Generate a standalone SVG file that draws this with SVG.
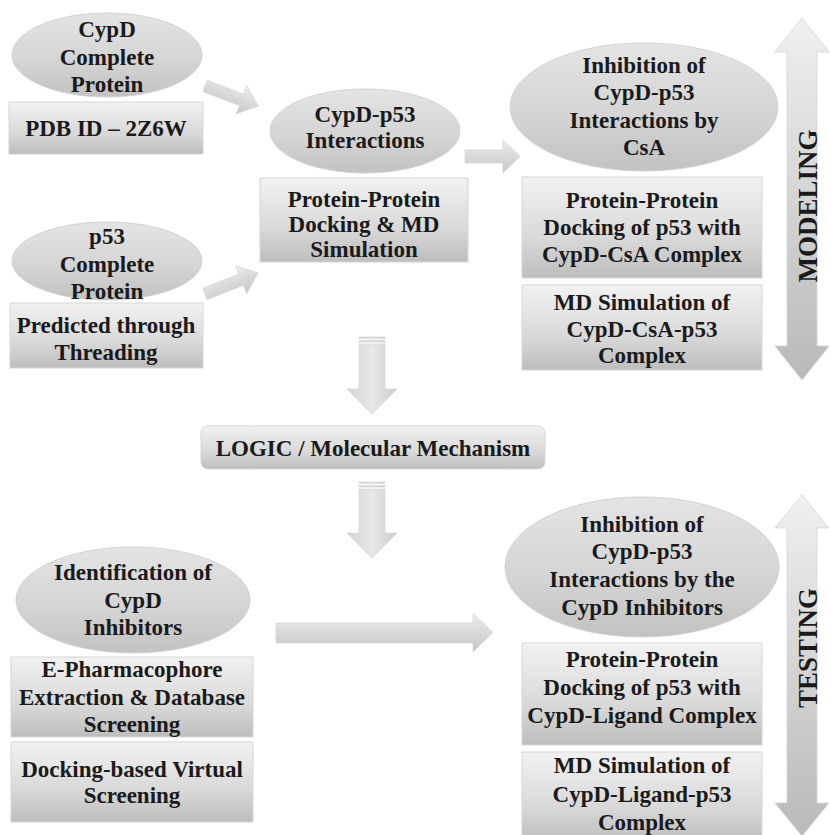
<svg xmlns="http://www.w3.org/2000/svg" width="830" height="835" viewBox="0 0 830 835">
<defs>
<linearGradient id="gEll" x1="0" y1="0" x2="0" y2="1">
<stop offset="0" stop-color="#e4e4e4"/>
<stop offset="0.55" stop-color="#d5d5d5"/>
<stop offset="1" stop-color="#c2c2c2"/>
</linearGradient>
<linearGradient id="gBox" x1="0" y1="0" x2="0" y2="1">
<stop offset="0" stop-color="#f2f2f2"/>
<stop offset="0.6" stop-color="#d9d9d9"/>
<stop offset="1" stop-color="#bdbdbd"/>
</linearGradient>
<linearGradient id="gArrH" x1="0" y1="0" x2="0" y2="1">
<stop offset="0" stop-color="#ececec"/>
<stop offset="1" stop-color="#c6c6c6"/>
</linearGradient>
<linearGradient id="gArrV" x1="0" y1="0" x2="1" y2="0">
<stop offset="0" stop-color="#d2d2d2"/>
<stop offset="0.5" stop-color="#e8e8e8"/>
<stop offset="1" stop-color="#cacaca"/>
</linearGradient>
<linearGradient id="gDbl" x1="0" y1="0" x2="0" y2="1">
<stop offset="0" stop-color="#f0f0f0"/>
<stop offset="1" stop-color="#b9b9b9"/>
</linearGradient>
</defs>
<style>
.ell{fill:url(#gEll);stroke:#d2d2d2;stroke-width:1}
.box{fill:url(#gBox);stroke:#d6d6d6;stroke-width:1}
.arr{fill:url(#gArrH);stroke:#d8d8d8;stroke-width:0.8}
.arrv{fill:url(#gArrV);stroke:#d8d8d8;stroke-width:0.8}
.dbl{fill:url(#gDbl);stroke:#d4d4d4;stroke-width:0.8}
text{font-family:"Liberation Serif","Times New Roman",serif;font-weight:bold;font-size:23px;fill:#1a1a1a;text-anchor:middle}
.big{font-size:23px}
.side{font-size:27px}
</style>
<rect width="830" height="835" fill="#ffffff"/>

<g id="connectors">
<path class="arr" transform="translate(205,86) rotate(20.7)" d="M0,-6 L39,-6 L39,-15 L57,0 L39,15 L39,6 L0,6 Z"/>
<path class="arr" transform="translate(205,294) rotate(-21.6)" d="M0,-6 L39,-6 L39,-15 L57,0 L39,15 L39,6 L0,6 Z"/>
<path class="arr" d="M465,150 L503,150 L503,140 L520,156.5 L503,173 L503,163 L465,163 Z"/>
<g class="arrv">
<rect x="359" y="337" width="26" height="1.5"/>
<rect x="359" y="340.5" width="26" height="1.5"/>
<path d="M359,344 L385,344 L385,389 L397,389 L372,414 L347,389 L359,389 Z"/>
<rect x="359" y="482" width="26" height="1.5"/>
<rect x="359" y="485.5" width="26" height="1.5"/>
<path d="M359,489 L385,489 L385,533 L397,533 L372,558 L347,533 L359,533 Z"/>
</g>
<path class="arr" d="M276,623 L473,623 L473,613 L493,632.5 L473,652 L473,643 L276,643 Z"/>
</g>

<g id="node-cypd">
<ellipse class="ell" cx="107" cy="55" rx="95" ry="42"/>
<text x="107" y="37">CypD</text>
<text x="107" y="64.5">Complete</text>
<text x="107" y="92">Protein</text>
</g>
<g id="node-pdb">
<rect class="box" x="9" y="102" width="194" height="52"/>
<text x="106" y="136">PDB ID – 2Z6W</text>
</g>

<g id="node-p53">
<ellipse class="ell" cx="107" cy="261" rx="95" ry="39"/>
<text x="107" y="244">p53</text>
<text x="107" y="272">Complete</text>
<text x="107" y="299">Protein</text>
</g>
<g id="node-threading">
<rect class="box" x="10" y="303" width="193" height="65"/>
<text x="106" y="333">Predicted through</text>
<text x="106" y="360">Threading</text>
</g>

<g id="node-cypd-p53">
<ellipse class="ell" cx="365" cy="131" rx="95" ry="42"/>
<text x="365" y="122">CypD-p53</text>
<text x="365" y="148">Interactions</text>
</g>
<g id="node-ppdock">
<rect class="box" x="260" y="178" width="208" height="84"/>
<text x="364" y="207">Protein-Protein</text>
<text x="364" y="232">Docking &amp; MD</text>
<text x="364" y="257">Simulation</text>
</g>

<g id="node-inhib-csa">
<ellipse class="ell" cx="644" cy="107" rx="134" ry="64"/>
<text x="644" y="73">Inhibition of</text>
<text x="644" y="100">CypD-p53</text>
<text x="644" y="128">Interactions by</text>
<text x="644" y="155">CsA</text>
</g>
<g id="node-dock-csa">
<rect class="box" x="522" y="177" width="240" height="101"/>
<text x="642" y="208">Protein-Protein</text>
<text x="642" y="235">Docking of p53 with</text>
<text x="642" y="262">CypD-CsA Complex</text>
</g>
<g id="node-md-csa">
<rect class="box" x="522" y="285" width="240" height="85"/>
<text x="642" y="310">MD Simulation of</text>
<text x="642" y="337">CypD-CsA-p53</text>
<text x="642" y="363">Complex</text>
</g>

<g id="node-modeling">
<path class="dbl" d="M802,18 L829,52 L817,52 L817,346 L829,346 L802,380 L775,346 L787,346 L787,52 L775,52 Z"/>
<text class="side" transform="translate(817,206) rotate(-90)" x="0" y="0">MODELING</text>
</g>

<g id="node-logic">
<rect class="box" x="201" y="426" width="344" height="43" rx="7"/>
<text class="big" x="373" y="456">LOGIC / Molecular Mechanism</text>
</g>

<g id="node-identification">
<ellipse class="ell" cx="133" cy="600" rx="117" ry="53"/>
<text x="133" y="580">Identification of</text>
<text x="133" y="608">CypD</text>
<text x="133" y="635">Inhibitors</text>
</g>
<g id="node-epharm">
<rect class="box" x="11" y="657" width="242" height="80"/>
<text x="132" y="677">E-Pharmacophore</text>
<text x="132" y="705">Extraction &amp; Database</text>
<text x="132" y="732">Screening</text>
</g>
<g id="node-vs">
<rect class="box" x="11" y="742" width="242" height="80"/>
<text x="132" y="777">Docking-based Virtual</text>
<text x="132" y="803">Screening</text>
</g>

<g id="node-inhib-lig">
<ellipse class="ell" cx="642" cy="567" rx="137" ry="70"/>
<text x="642" y="532">Inhibition of</text>
<text x="642" y="559">CypD-p53</text>
<text x="642" y="587">Interactions by the</text>
<text x="642" y="615">CypD Inhibitors</text>
</g>
<g id="node-dock-lig">
<rect class="box" x="522" y="643" width="240" height="102"/>
<text x="642" y="667">Protein-Protein</text>
<text x="642" y="695">Docking of p53 with</text>
<text x="642" y="723">CypD-Ligand Complex</text>
</g>
<g id="node-md-lig">
<rect class="box" x="522" y="752" width="240" height="90"/>
<text x="642" y="773">MD Simulation of</text>
<text x="642" y="802">CypD-Ligand-p53</text>
<text x="642" y="830">Complex</text>
</g>

<g id="node-testing">
<path class="dbl" d="M802,495 L829,528 L817,528 L817,803 L829,803 L802,836 L775,803 L787,803 L787,528 L775,528 Z"/>
<text class="side" transform="translate(817,648) rotate(-90)" x="0" y="0">TESTING</text>
</g>
</svg>
